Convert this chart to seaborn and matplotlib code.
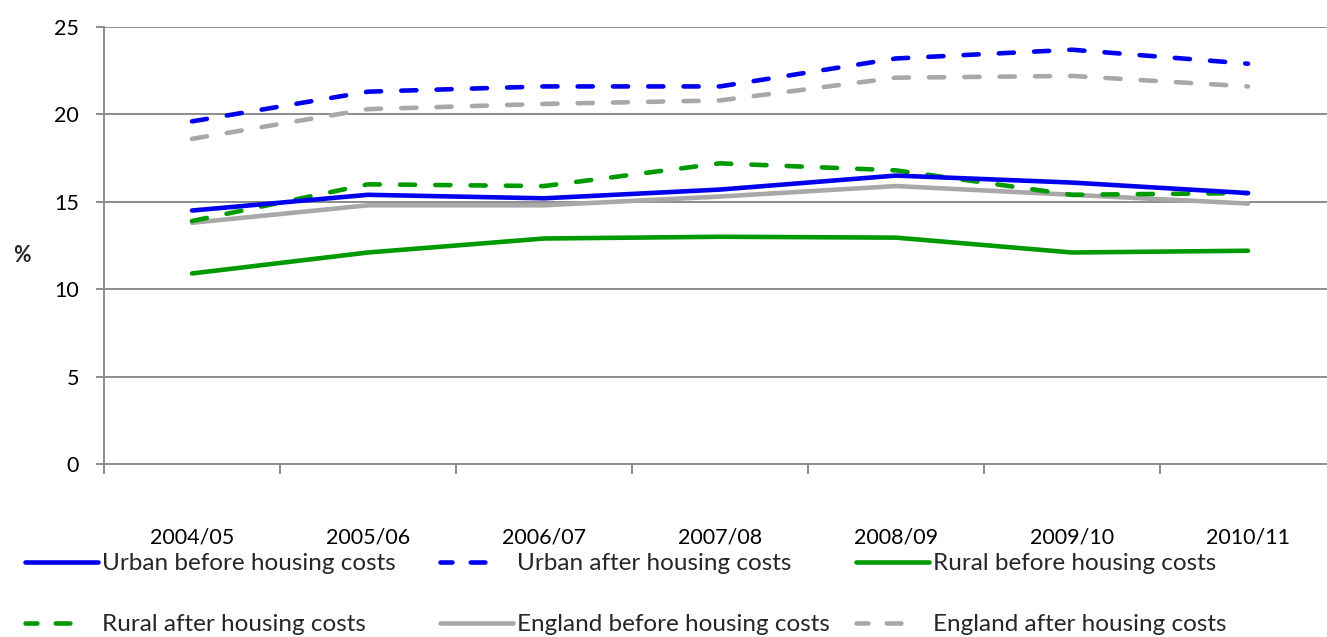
import matplotlib
matplotlib.use("Agg")
import matplotlib.pyplot as plt
from matplotlib.lines import Line2D
import numpy as np
import pandas as pd
import seaborn as sns

# Share of individuals in low income households (%)
years = ["2004/05", "2005/06", "2006/07", "2007/08", "2008/09", "2009/10", "2010/11"]
urban_bhc = [14.5, 15.4, 15.2, 15.7, 16.5, 16.1, 15.5]
urban_ahc = [19.6, 21.3, 21.6, 21.6, 23.2, 23.7, 22.9]
rural_bhc = [10.9, 12.1, 12.9, 13.0, 12.95, 12.1, 12.2]
rural_ahc = [13.9, 16.0, 15.9, 17.2, 16.8, 15.4, 15.5]
england_bhc = [13.8, 14.8, 14.8, 15.3, 15.9, 15.4, 14.9]
england_ahc = [18.6, 20.3, 20.6, 20.8, 22.1, 22.2, 21.6]

series_names = [
    "Urban before housing costs",
    "Urban after housing costs",
    "Rural before housing costs",
    "Rural after housing costs",
    "England before housing costs",
    "England after housing costs",
]
series_values = [urban_bhc, urban_ahc, rural_bhc, rural_ahc, england_bhc, england_ahc]

BLUE = "#0000EE"
GREEN = "#009A00"
GREY = "#A8A8A8"
colors = {
    series_names[0]: BLUE, series_names[1]: BLUE,
    series_names[2]: GREEN, series_names[3]: GREEN,
    series_names[4]: GREY, series_names[5]: GREY,
}
DASH = (3.3, 4.4)
dashed = {
    series_names[0]: False, series_names[1]: True,
    series_names[2]: False, series_names[3]: True,
    series_names[4]: False, series_names[5]: True,
}

df = pd.DataFrame(
    [(name, i, v) for name, vals in zip(series_names, series_values)
     for i, v in enumerate(vals)],
    columns=["series", "pos", "value"],
)

sns.set_style("white")
plt.rcParams["font.family"] = ["Lato", "DejaVu Sans"]

W, H = 1327, 637
fig = plt.figure(figsize=(W / 100, H / 100), dpi=100)
ax = fig.add_axes([104 / W, (H - 464) / H, 1232 / W, 437 / H])

LW = 3.3
# draw in reverse so the Urban series sit on top
for name in reversed(series_names):
    sub = df[df["series"] == name]
    sns.lineplot(
        data=sub, x="pos", y="value", ax=ax, color=colors[name],
        linewidth=LW, legend=False, solid_capstyle="round",
        dash_capstyle="round",
        **({"linestyle": (0, DASH)} if dashed[name] else {}),
    )

GRID = "#8C8C8C"
TICK_FS = 15.5
ax.set_ylim(0, 25)
ax.set_xlim(-0.5, 6.5)
ax.set_yticks(np.arange(0, 26, 5))
ax.yaxis.grid(True, color=GRID, linewidth=1.4)
ax.xaxis.grid(False)
ax.set_axisbelow(True)

# category boundaries as major ticks, names centred on minor ticks
ax.set_xticks(np.arange(-0.5, 7, 1.0))
ax.set_xticklabels([])
ax.set_xticks(np.arange(len(years)), minor=True)
ax.set_xticklabels(years, minor=True)

ax.tick_params(axis="x", which="major", direction="out", length=7,
               color=GRID, width=1.4, bottom=True)
ax.tick_params(axis="x", which="minor", length=0, pad=46, labelsize=TICK_FS,
               labelcolor="black")
ax.tick_params(axis="y", direction="out", length=6, color=GRID, width=1.4,
               left=True, pad=12, labelsize=TICK_FS, labelcolor="black")

for side in ["top", "right"]:
    ax.spines[side].set_visible(False)
for side in ["left", "bottom"]:
    ax.spines[side].set_color(GRID)
    ax.spines[side].set_linewidth(1.4)

ax.set_xlabel("")
ax.set_ylabel("")
fig.text(22 / W, 1 - 255 / H, "%", ha="center", va="center",
         fontsize=TICK_FS, fontweight="bold")

# three legend columns, two rows each; dashed keys show two dashes
def handle(name):
    kw = dict(color=colors[name], linewidth=LW, solid_capstyle="round",
              dash_capstyle="round")
    if dashed[name]:
        kw["linestyle"] = (0.6, (3.2, 4.0, 3.2, 12.0))
    return Line2D([], [], **kw)

LEG_FS = 17.5
columns = [(25, [0, 3]), (440, [1, 4]), (856, [2, 5])]
for x0, idx in columns:
    fig.legend(
        [handle(series_names[i]) for i in idx],
        [series_names[i] for i in idx],
        loc="upper left",
        bbox_to_anchor=(x0 / W, 1 - 553 / H),
        frameon=False, fontsize=LEG_FS, handlelength=3.0, handletextpad=0.15,
        labelspacing=1.65, borderpad=0, borderaxespad=0,
    )

fig.savefig("out.png", dpi=100)
